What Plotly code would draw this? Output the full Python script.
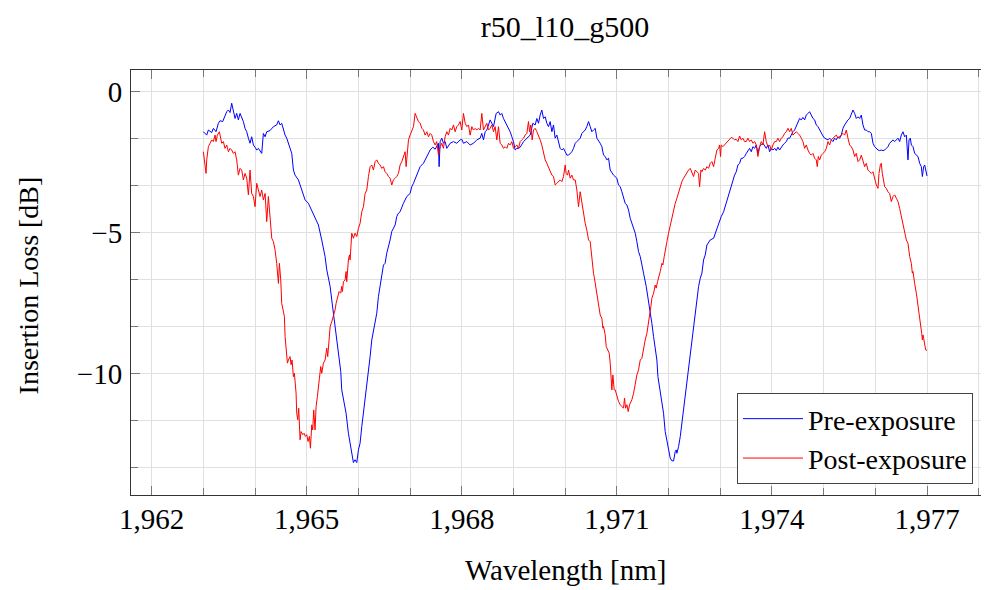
import plotly.graph_objects as go

# ---------------- data ----------------
title_text = "r50_l10_g500"
x_title = "Wavelength [nm]"
y_title = "Insertion Loss [dB]"
series_names = ["Pre-exposure", "Post-exposure"]
x_tick_values = [1962, 1965, 1968, 1971, 1974, 1977]
x_tick_labels = ["1,962", "1,965", "1,968", "1,971", "1,974", "1,977"]
y_tick_values = [0, -5, -10]
y_tick_labels = ["0", "\u22125", "\u221210"]

pre_wavelength = [
    1963.000, 1963.065, 1963.097, 1963.161, 1963.194, 1963.245, 1963.290, 1963.323, 1963.374, 1963.419,
    1963.452, 1963.484, 1963.516, 1963.548, 1963.581, 1963.613, 1963.645, 1963.677, 1963.710, 1963.774,
    1963.806, 1963.839, 1963.871, 1963.903, 1963.935, 1963.968, 1964.000, 1964.032, 1964.065, 1964.097,
    1964.129, 1964.161, 1964.194, 1964.226, 1964.290, 1964.355, 1964.419, 1964.452, 1964.484, 1964.516,
    1964.548, 1964.581, 1964.613, 1964.677, 1964.710, 1964.742, 1964.774, 1964.839, 1964.871, 1964.935,
    1964.968, 1965.032, 1965.097, 1965.161, 1965.226, 1965.290, 1965.355, 1965.387, 1965.452, 1965.484,
    1965.529, 1965.581, 1965.632, 1965.658, 1965.677, 1965.723, 1965.761, 1965.806, 1965.839, 1965.871,
    1965.903, 1965.935, 1965.968, 1966.000, 1966.032, 1966.065, 1966.097, 1966.129, 1966.161, 1966.194,
    1966.226, 1966.258, 1966.290, 1966.323, 1966.355, 1966.387, 1966.419, 1966.452, 1966.484, 1966.516,
    1966.548, 1966.613, 1966.645, 1966.710, 1966.742, 1966.774, 1966.806, 1966.871, 1966.935, 1967.000,
    1967.032, 1967.065, 1967.129, 1967.194, 1967.258, 1967.323, 1967.387, 1967.439, 1967.484, 1967.548,
    1967.561, 1967.581, 1967.613, 1967.645, 1967.677, 1967.710, 1967.774, 1967.839, 1967.903, 1967.968,
    1968.000, 1968.032, 1968.097, 1968.161, 1968.226, 1968.290, 1968.355, 1968.387, 1968.419, 1968.452,
    1968.484, 1968.548, 1968.581, 1968.613, 1968.665, 1968.710, 1968.742, 1968.774, 1968.806, 1968.839,
    1968.871, 1968.903, 1968.935, 1968.968, 1969.000, 1969.032, 1969.065, 1969.097, 1969.129, 1969.194,
    1969.258, 1969.323, 1969.374, 1969.419, 1969.452, 1969.484, 1969.516, 1969.548, 1969.581, 1969.613,
    1969.645, 1969.677, 1969.710, 1969.742, 1969.774, 1969.806, 1969.839, 1969.871, 1969.903, 1969.935,
    1969.968, 1970.000, 1970.032, 1970.065, 1970.097, 1970.129, 1970.161, 1970.194, 1970.226, 1970.290,
    1970.323, 1970.355, 1970.387, 1970.419, 1970.452, 1970.484, 1970.516, 1970.548, 1970.581, 1970.613,
    1970.645, 1970.677, 1970.710, 1970.742, 1970.774, 1970.806, 1970.839, 1970.871, 1970.935, 1971.000,
    1971.032, 1971.065, 1971.097, 1971.129, 1971.161, 1971.194, 1971.226, 1971.258, 1971.290, 1971.323,
    1971.355, 1971.387, 1971.419, 1971.452, 1971.484, 1971.516, 1971.568, 1971.613, 1971.645, 1971.677,
    1971.710, 1971.742, 1971.774, 1971.794, 1971.826, 1971.839, 1971.871, 1971.903, 1971.935, 1971.968,
    1972.000, 1972.032, 1972.065, 1972.097, 1972.129, 1972.148, 1972.161, 1972.194, 1972.226, 1972.258,
    1972.290, 1972.323, 1972.355, 1972.387, 1972.419, 1972.452, 1972.484, 1972.516, 1972.548, 1972.581,
    1972.613, 1972.645, 1972.677, 1972.710, 1972.742, 1972.774, 1972.806, 1972.871, 1972.903, 1972.935,
    1972.968, 1973.019, 1973.065, 1973.116, 1973.148, 1973.181, 1973.213, 1973.245, 1973.277, 1973.310,
    1973.342, 1973.374, 1973.406, 1973.439, 1973.471, 1973.503, 1973.535, 1973.568, 1973.600, 1973.632,
    1973.665, 1973.697, 1973.729, 1973.761, 1973.794, 1973.826, 1973.890, 1973.923, 1973.955, 1973.987,
    1974.019, 1974.052, 1974.084, 1974.116, 1974.148, 1974.181, 1974.213, 1974.245, 1974.277, 1974.310,
    1974.342, 1974.374, 1974.406, 1974.439, 1974.471, 1974.503, 1974.535, 1974.568, 1974.600, 1974.632,
    1974.665, 1974.697, 1974.729, 1974.761, 1974.794, 1974.826, 1974.858, 1974.890, 1974.923, 1974.955,
    1974.987, 1975.019, 1975.052, 1975.084, 1975.116, 1975.148, 1975.181, 1975.213, 1975.245, 1975.277,
    1975.310, 1975.342, 1975.374, 1975.406, 1975.439, 1975.471, 1975.503, 1975.535, 1975.568, 1975.600,
    1975.632, 1975.665, 1975.697, 1975.729, 1975.761, 1975.794, 1975.826, 1975.858, 1975.890, 1975.923,
    1975.955, 1975.987, 1976.019, 1976.052, 1976.084, 1976.116, 1976.148, 1976.181, 1976.213, 1976.245,
    1976.277, 1976.310, 1976.342, 1976.374, 1976.406, 1976.439, 1976.471, 1976.503, 1976.535, 1976.568,
    1976.600, 1976.632, 1976.652, 1976.677, 1976.697, 1976.729, 1976.761, 1976.794, 1976.826, 1976.858,
    1976.890, 1976.910, 1976.935, 1976.955, 1976.974, 1977.000,
]

pre_loss = [
    -1.42, -1.54, -1.36, -1.45, -1.30, -1.42, -1.12, -1.03, -1.06, -0.83,
    -0.71, -0.65, -0.74, -0.41, -0.71, -0.95, -0.77, -1.00, -0.77, -1.06,
    -1.30, -1.42, -1.65, -1.83, -1.60, -1.89, -1.97, -2.07, -2.01, -2.09,
    -2.19, -1.48, -1.60, -1.42, -1.38, -1.24, -1.18, -1.03, -1.18, -1.12,
    -1.36, -1.54, -1.65, -2.07, -2.19, -2.78, -2.96, -3.13, -3.31, -3.72,
    -3.84, -3.96, -4.20, -4.49, -4.73, -5.26, -5.85, -6.32, -6.91, -7.39,
    -8.10, -8.81, -9.63, -9.93, -10.58, -11.05, -11.41, -12.12, -12.47, -12.83,
    -13.16, -13.06, -13.16, -12.71, -12.47, -11.88, -11.41, -10.93, -10.46, -9.87,
    -9.40, -8.81, -8.45, -8.16, -7.86, -7.27, -6.91, -6.56, -6.15, -6.09,
    -5.73, -5.26, -4.96, -4.73, -4.43, -4.31, -4.26, -3.96, -3.72, -3.61,
    -3.37, -3.25, -2.96, -2.66, -2.54, -2.30, -2.07, -1.97, -2.04, -1.83,
    -2.66, -1.77, -1.65, -1.83, -1.77, -2.01, -1.83, -1.77, -1.83, -1.71,
    -1.69, -1.83, -1.77, -1.89, -1.83, -1.71, -1.65, -1.48, -1.71, -1.42,
    -1.36, -1.00, -1.12, -1.24, -0.77, -0.71, -0.83, -0.77, -0.95, -1.06,
    -1.18, -1.30, -1.42, -1.60, -1.77, -2.07, -2.01, -2.01, -1.97, -1.77,
    -1.65, -1.54, -1.12, -1.18, -0.95, -1.12, -0.83, -0.65, -0.95, -0.89,
    -1.12, -1.24, -1.06, -1.42, -1.18, -1.65, -1.54, -1.83, -2.01, -2.07,
    -2.01, -2.13, -2.25, -2.25, -2.19, -2.13, -2.01, -1.83, -1.77, -1.65,
    -1.48, -1.42, -1.36, -1.24, -1.06, -1.24, -1.42, -1.36, -1.30, -1.65,
    -1.77, -1.83, -1.95, -2.25, -2.30, -2.42, -2.36, -2.78, -2.96, -3.07,
    -3.31, -3.37, -3.55, -3.72, -3.96, -4.02, -4.20, -4.49, -4.67, -4.91,
    -5.02, -5.32, -5.67, -5.85, -6.09, -6.44, -6.91, -7.39, -7.80, -8.22,
    -8.69, -9.04, -9.52, -10.11, -10.46, -10.70, -11.05, -11.41, -12.06, -12.35,
    -12.71, -13.00, -13.10, -13.10, -12.77, -12.71, -12.83, -12.59, -12.24, -11.76,
    -11.29, -10.82, -10.34, -9.87, -9.28, -8.81, -8.27, -7.86, -7.45, -6.91,
    -6.62, -6.44, -5.97, -5.79, -5.44, -5.32, -5.26, -5.20, -5.02, -4.85,
    -4.67, -4.43, -4.26, -3.96, -3.72, -3.49, -3.37, -3.13, -2.96, -2.84,
    -2.60, -2.54, -2.36, -2.36, -2.30, -2.19, -2.09, -2.01, -2.13, -1.95,
    -2.01, -1.89, -2.19, -1.95, -1.89, -1.83, -2.01, -1.89, -2.13, -2.01,
    -2.07, -2.01, -2.09, -1.97, -2.07, -1.95, -1.89, -1.83, -1.77, -1.65,
    -1.65, -1.54, -1.42, -1.36, -1.24, -1.12, -0.95, -1.00, -0.91, -1.00,
    -0.83, -0.77, -0.71, -0.83, -0.95, -1.00, -1.18, -1.24, -1.36, -1.48,
    -1.57, -1.65, -1.69, -1.71, -1.65, -1.71, -1.77, -1.65, -1.71, -1.60,
    -1.65, -1.54, -1.30, -1.18, -1.06, -1.00, -0.95, -0.83, -0.65, -0.77,
    -0.95, -0.89, -0.95, -0.83, -1.18, -1.36, -1.36, -1.42, -1.42, -1.48,
    -1.83, -1.95, -2.01, -2.07, -2.09, -2.07, -2.09, -2.07, -2.01, -1.95,
    -1.83, -1.77, -1.71, -1.77, -1.71, -1.65, -1.77, -1.54, -1.42, -1.60,
    -1.54, -2.42, -1.71, -1.65, -1.89, -1.95, -2.19, -2.25, -2.30, -2.54,
    -2.66, -3.01, -2.66, -2.60, -2.78, -2.99,
]

post_wavelength = [
    1963.000, 1963.013, 1963.032, 1963.052, 1963.065, 1963.097, 1963.129, 1963.161, 1963.194, 1963.226,
    1963.245, 1963.271, 1963.310, 1963.335, 1963.355, 1963.387, 1963.419, 1963.452, 1963.484, 1963.516,
    1963.548, 1963.581, 1963.613, 1963.645, 1963.677, 1963.710, 1963.742, 1963.774, 1963.806, 1963.839,
    1963.871, 1963.903, 1963.935, 1963.968, 1964.000, 1964.032, 1964.065, 1964.097, 1964.129, 1964.161,
    1964.194, 1964.226, 1964.258, 1964.290, 1964.323, 1964.355, 1964.387, 1964.419, 1964.452, 1964.471,
    1964.497, 1964.516, 1964.548, 1964.568, 1964.581, 1964.600, 1964.626, 1964.645, 1964.677, 1964.697,
    1964.716, 1964.742, 1964.761, 1964.794, 1964.806, 1964.826, 1964.845, 1964.871, 1964.890, 1964.923,
    1964.948, 1964.974, 1965.000, 1965.026, 1965.052, 1965.071, 1965.097, 1965.116, 1965.135, 1965.161,
    1965.181, 1965.206, 1965.226, 1965.245, 1965.271, 1965.290, 1965.323, 1965.355, 1965.387, 1965.406,
    1965.432, 1965.452, 1965.484, 1965.516, 1965.548, 1965.568, 1965.594, 1965.626, 1965.658, 1965.677,
    1965.690, 1965.710, 1965.742, 1965.761, 1965.774, 1965.787, 1965.806, 1965.826, 1965.839, 1965.871,
    1965.903, 1965.935, 1965.968, 1966.000, 1966.032, 1966.065, 1966.097, 1966.129, 1966.161, 1966.194,
    1966.226, 1966.258, 1966.290, 1966.323, 1966.355, 1966.387, 1966.419, 1966.452, 1966.484, 1966.516,
    1966.548, 1966.581, 1966.613, 1966.645, 1966.677, 1966.710, 1966.742, 1966.774, 1966.806, 1966.839,
    1966.871, 1966.903, 1966.923, 1966.935, 1966.968, 1967.000, 1967.032, 1967.065, 1967.097, 1967.129,
    1967.161, 1967.194, 1967.226, 1967.258, 1967.290, 1967.323, 1967.355, 1967.387, 1967.419, 1967.452,
    1967.484, 1967.516, 1967.548, 1967.581, 1967.613, 1967.645, 1967.677, 1967.710, 1967.742, 1967.774,
    1967.806, 1967.839, 1967.871, 1967.903, 1967.935, 1967.968, 1968.000, 1968.032, 1968.065, 1968.097,
    1968.129, 1968.161, 1968.194, 1968.226, 1968.258, 1968.290, 1968.323, 1968.355, 1968.387, 1968.419,
    1968.452, 1968.484, 1968.516, 1968.548, 1968.581, 1968.613, 1968.645, 1968.677, 1968.710, 1968.742,
    1968.774, 1968.806, 1968.839, 1968.871, 1968.903, 1968.935, 1968.968, 1969.000, 1969.032, 1969.065,
    1969.097, 1969.129, 1969.161, 1969.194, 1969.226, 1969.258, 1969.290, 1969.310, 1969.335, 1969.361,
    1969.387, 1969.419, 1969.452, 1969.484, 1969.516, 1969.548, 1969.581, 1969.613, 1969.645, 1969.677,
    1969.710, 1969.742, 1969.774, 1969.806, 1969.839, 1969.871, 1969.903, 1969.935, 1969.968, 1970.000,
    1970.019, 1970.045, 1970.065, 1970.097, 1970.129, 1970.161, 1970.194, 1970.226, 1970.258, 1970.290,
    1970.323, 1970.355, 1970.387, 1970.419, 1970.452, 1970.484, 1970.503, 1970.523, 1970.548, 1970.561,
    1970.581, 1970.613, 1970.645, 1970.677, 1970.710, 1970.729, 1970.742, 1970.774, 1970.794, 1970.819,
    1970.852, 1970.871, 1970.890, 1970.903, 1970.923, 1970.948, 1970.968, 1971.000, 1971.032, 1971.065,
    1971.097, 1971.129, 1971.148, 1971.168, 1971.194, 1971.219, 1971.245, 1971.258, 1971.290, 1971.323,
    1971.355, 1971.387, 1971.419, 1971.452, 1971.484, 1971.516, 1971.548, 1971.581, 1971.613, 1971.632,
    1971.658, 1971.677, 1971.710, 1971.742, 1971.761, 1971.787, 1971.806, 1971.839, 1971.871, 1971.890,
    1971.916, 1971.935, 1971.968, 1972.000, 1972.032, 1972.065, 1972.097, 1972.129, 1972.161, 1972.194,
    1972.226, 1972.258, 1972.290, 1972.323, 1972.355, 1972.387, 1972.419, 1972.452, 1972.484, 1972.516,
    1972.548, 1972.581, 1972.600, 1972.626, 1972.645, 1972.677, 1972.710, 1972.742, 1972.774, 1972.806,
    1972.839, 1972.871, 1972.903, 1972.935, 1972.968, 1972.987, 1973.006, 1973.019, 1973.052, 1973.084,
    1973.116, 1973.148, 1973.181, 1973.213, 1973.245, 1973.277, 1973.310, 1973.342, 1973.374, 1973.406,
    1973.439, 1973.471, 1973.503, 1973.535, 1973.568, 1973.600, 1973.632, 1973.665, 1973.697, 1973.729,
    1973.761, 1973.794, 1973.826, 1973.858, 1973.890, 1973.923, 1973.955, 1973.987, 1974.019, 1974.052,
    1974.084, 1974.116, 1974.148, 1974.181, 1974.213, 1974.245, 1974.277, 1974.310, 1974.342, 1974.374,
    1974.406, 1974.439, 1974.471, 1974.503, 1974.535, 1974.568, 1974.600, 1974.632, 1974.665, 1974.697,
    1974.729, 1974.761, 1974.794, 1974.826, 1974.858, 1974.877, 1974.897, 1974.923, 1974.955, 1974.987,
    1975.019, 1975.052, 1975.084, 1975.116, 1975.148, 1975.181, 1975.213, 1975.245, 1975.277, 1975.310,
    1975.342, 1975.374, 1975.406, 1975.439, 1975.471, 1975.503, 1975.535, 1975.568, 1975.600, 1975.632,
    1975.665, 1975.697, 1975.729, 1975.761, 1975.794, 1975.826, 1975.858, 1975.890, 1975.923, 1975.955,
    1975.987, 1976.019, 1976.052, 1976.071, 1976.097, 1976.116, 1976.135, 1976.161, 1976.181, 1976.213,
    1976.245, 1976.277, 1976.310, 1976.342, 1976.374, 1976.406, 1976.439, 1976.471, 1976.503, 1976.535,
    1976.568, 1976.600, 1976.632, 1976.665, 1976.697, 1976.716, 1976.729, 1976.742, 1976.761, 1976.794,
    1976.826, 1976.845, 1976.858, 1976.877, 1976.897, 1976.910, 1976.923, 1976.935, 1976.955, 1976.974,
    1977.000,
]

post_loss = [
    -2.13, -2.36, -2.66, -2.90, -2.42, -1.95, -1.83, -1.71, -1.77, -1.54,
    -1.77, -1.54, -1.42, -1.71, -1.83, -1.77, -2.01, -1.89, -2.13, -2.01,
    -2.07, -2.19, -2.13, -2.42, -2.96, -2.72, -2.78, -3.13, -2.90, -3.07,
    -3.66, -2.78, -3.61, -3.72, -4.08, -3.25, -3.55, -3.72, -3.49, -3.84,
    -3.61, -4.61, -3.72, -4.43, -5.20, -5.32, -5.61, -6.09, -6.80, -6.09,
    -6.68, -7.51, -7.74, -7.98, -8.69, -9.04, -9.63, -9.52, -9.40, -9.69,
    -9.52, -10.11, -9.99, -10.70, -11.41, -11.64, -11.23, -12.35, -12.06, -12.17,
    -12.12, -12.23, -12.17, -12.41, -12.23, -12.65, -11.82, -12.00, -11.29, -12.00,
    -11.17, -10.82, -10.34, -10.17, -9.75, -9.99, -9.63, -9.52, -9.10, -9.40,
    -8.81, -8.34, -8.16, -7.98, -7.74, -7.51, -7.27, -7.09, -7.15, -6.91,
    -7.09, -6.74, -6.68, -6.38, -6.74, -6.26, -5.97, -5.79, -5.97, -5.02,
    -5.20, -5.02, -5.14, -4.85, -4.67, -4.26, -4.08, -3.61, -3.49, -3.01,
    -2.66, -2.60, -2.78, -2.48, -2.42, -2.54, -2.60, -2.72, -2.66, -2.84,
    -2.90, -3.01, -3.07, -3.31, -3.13, -3.07, -3.01, -2.90, -2.60, -2.48,
    -2.30, -2.13, -2.66, -2.30, -1.71, -1.54, -1.36, -1.24, -0.77, -0.95,
    -1.06, -1.12, -1.30, -1.36, -1.54, -1.42, -1.60, -1.48, -1.54, -1.77,
    -1.89, -1.77, -2.25, -1.95, -1.83, -2.01, -1.60, -1.42, -1.54, -1.30,
    -1.36, -1.18, -1.42, -1.24, -1.18, -1.06, -1.36, -0.77, -1.12, -1.24,
    -1.18, -1.54, -1.24, -1.36, -1.30, -1.36, -1.30, -1.36, -0.77, -1.36,
    -1.24, -1.12, -1.36, -1.30, -1.18, -1.42, -1.24, -1.71, -1.24, -1.83,
    -1.89, -2.01, -1.95, -2.01, -1.83, -1.89, -1.77, -2.01, -1.95, -1.89,
    -2.01, -1.77, -1.71, -1.65, -1.54, -1.48, -1.06, -1.42, -1.18, -1.71,
    -1.36, -1.30, -1.42, -1.54, -1.71, -1.89, -2.13, -2.42, -2.54, -2.66,
    -2.84, -2.96, -3.01, -3.31, -3.25, -3.19, -3.13, -3.19, -3.01, -2.60,
    -2.90, -2.96, -2.78, -3.07, -2.96, -3.13, -3.13, -3.49, -4.08, -3.55,
    -3.96, -4.31, -4.67, -4.91, -5.26, -5.32, -5.73, -6.09, -6.44, -6.56,
    -6.80, -7.03, -7.39, -7.92, -8.04, -8.39, -8.33, -8.63, -9.04, -9.16,
    -9.28, -9.63, -10.11, -10.58, -10.05, -10.58, -10.58, -10.82, -10.99, -11.11,
    -11.17, -11.23, -10.87, -11.23, -11.11, -11.35, -11.11, -11.05, -10.93, -10.70,
    -10.28, -10.05, -9.87, -9.52, -9.46, -9.04, -8.81, -8.57, -8.22, -7.92,
    -7.62, -7.33, -7.15, -6.86, -6.97, -6.74, -6.56, -6.38, -6.09, -6.15,
    -5.85, -5.61, -5.32, -5.02, -4.73, -4.43, -4.20, -3.96, -3.78, -3.55,
    -3.31, -3.19, -3.07, -2.96, -2.84, -2.78, -2.72, -2.90, -3.01, -2.78,
    -2.84, -2.90, -3.37, -2.78, -2.84, -2.72, -2.78, -2.66, -2.72, -2.54,
    -2.48, -2.66, -2.36, -2.07, -2.01, -1.89, -2.30, -1.89, -1.95, -1.89,
    -1.83, -1.77, -1.71, -1.62, -1.65, -1.71, -1.69, -1.77, -1.57, -1.71,
    -1.65, -1.77, -1.77, -1.65, -1.77, -1.71, -1.83, -1.77, -1.89, -2.30,
    -1.95, -1.77, -1.89, -1.42, -1.77, -1.95, -1.89, -2.07, -1.89, -1.77,
    -1.77, -1.65, -1.77, -1.65, -1.60, -1.48, -1.42, -1.30, -1.42, -1.30,
    -1.54, -1.48, -1.42, -1.48, -1.54, -1.65, -1.77, -2.01, -1.89, -2.07,
    -2.19, -2.25, -2.19, -2.36, -2.42, -2.66, -2.30, -2.42, -2.25, -2.19,
    -2.13, -2.01, -1.77, -1.89, -1.71, -1.65, -1.60, -1.54, -1.65, -1.60,
    -1.54, -1.48, -1.54, -1.36, -1.65, -1.89, -1.95, -2.07, -2.30, -2.19,
    -2.48, -2.42, -2.25, -2.42, -2.66, -2.54, -2.78, -2.84, -2.90, -2.84,
    -3.07, -3.31, -3.43, -2.90, -2.60, -2.54, -2.90, -3.25, -3.37, -3.43,
    -3.55, -3.61, -3.90, -3.72, -3.66, -3.78, -3.90, -4.14, -4.43, -4.67,
    -4.91, -5.26, -5.38, -5.85, -6.09, -6.44, -6.38, -6.68, -6.80, -7.15,
    -7.57, -7.74, -7.98, -8.33, -8.57, -8.81, -8.63, -8.75, -8.98, -9.16,
    -9.18,
]

assert len(pre_wavelength) == len(pre_loss), (len(pre_wavelength), len(pre_loss))
assert len(post_wavelength) == len(post_loss), (len(post_wavelength), len(post_loss))

# ---------------- styling ----------------
# The page body keeps the browser's default 8 px margin, so the figure is laid
# out 8 px up/left of where it appears in the screenshot.
SERIF = "Liberation Serif, Times New Roman, serif"
GRID = "#e0e0e0"
TICK = "#777777"
FRAME = "#333333"

fig = go.Figure()
fig.add_trace(go.Scatter(x=pre_wavelength, y=pre_loss, mode="lines", name=series_names[0],
                         line=dict(color="#0000ff", width=1)))
fig.add_trace(go.Scatter(x=post_wavelength, y=post_loss, mode="lines", name=series_names[1],
                         line=dict(color="#ff0000", width=1)))

fig.update_layout(
    width=989, height=590,
    margin=dict(l=123, r=9, t=62, b=103),
    paper_bgcolor="white", plot_bgcolor="white",
    title=dict(text=title_text, x=557 / 989, xanchor="center", xref="container",
               y=1 - 18 / 590, yanchor="middle", yref="container",
               font=dict(family=SERIF, size=30, color="black")),
    showlegend=True,
    legend=dict(x=0.9825, xanchor="right", y=0.026, yanchor="bottom",
                bgcolor="white", bordercolor="#444444", borderwidth=1,
                font=dict(family=SERIF, size=28, color="black"),
                tracegroupgap=0, itemwidth=60),
    xaxis=dict(range=[1961.6, 1978.18], tickmode="array", tickvals=x_tick_values,
               ticktext=x_tick_labels, ticks="inside", ticklen=9, tickwidth=1, tickcolor=TICK,
               showline=True, linecolor=FRAME, linewidth=1, mirror="allticks",
               showgrid=True, gridcolor=GRID, gridwidth=1, zeroline=False,
               tickfont=dict(family=SERIF, size=29, color="black"), ticklabelstandoff=-2,
               minor=dict(dtick=1, tick0=1962, ticks="inside", ticklen=7, tickcolor=TICK,
                          showgrid=True, gridcolor=GRID, gridwidth=1)),
    yaxis=dict(range=[-14.31, 0.77], tickmode="array", tickvals=y_tick_values,
               ticktext=y_tick_labels, ticks="inside", ticklen=9, tickwidth=1, tickcolor=TICK,
               showline=True, linecolor=FRAME, linewidth=1, mirror=False,
               showgrid=True, gridcolor=GRID, gridwidth=1, zeroline=False,
               tickfont=dict(family=SERIF, size=29, color="black"), ticklabelstandoff=2,
               minor=dict(dtick=5 / 3, tick0=0, ticks="inside", ticklen=7, tickcolor=TICK,
                          showgrid=True, gridcolor=GRID, gridwidth=1)),
    annotations=[
        dict(text=x_title, xref="paper", yref="paper", x=(565 - 131) / 857, y=-0.176,
             xanchor="center", yanchor="middle", showarrow=False,
             font=dict(family=SERIF, size=29, color="black")),
        dict(text=y_title, xref="paper", yref="paper", x=(28.5 - 131) / 857, y=0.492,
             xanchor="center", yanchor="middle", textangle=-90, showarrow=False,
             font=dict(family=SERIF, size=28, color="black")),
    ],
)

fig.write_html("out.html")
